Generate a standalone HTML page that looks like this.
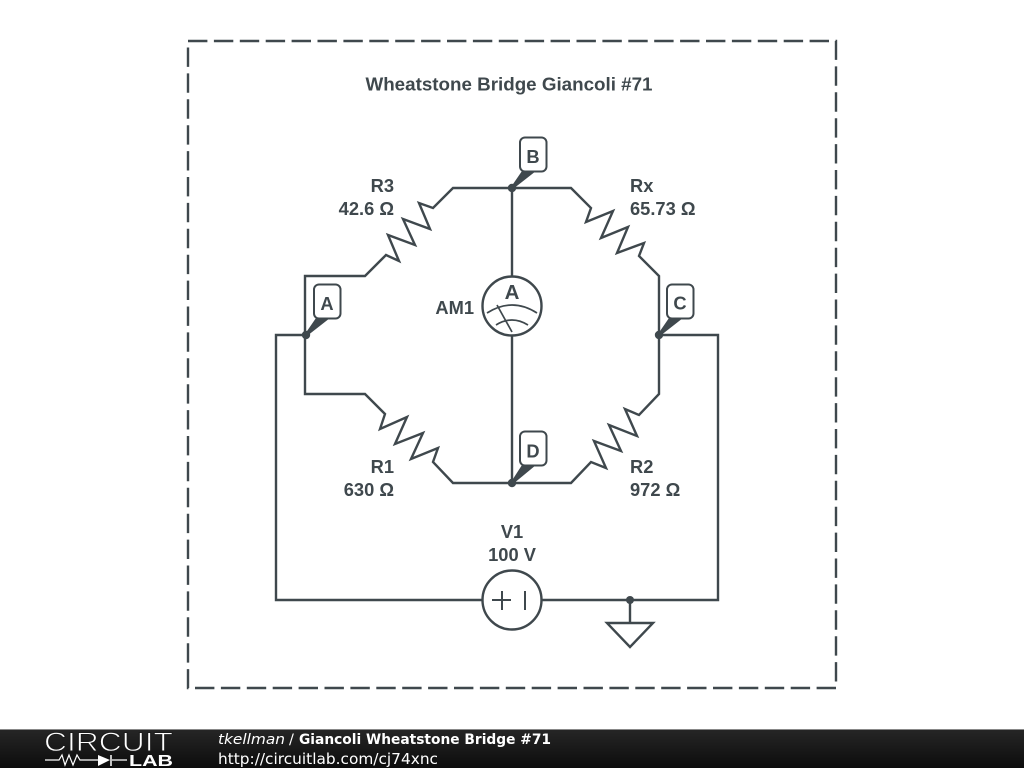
<!DOCTYPE html>
<html><head><meta charset="utf-8"><style>
html,body{margin:0;padding:0;background:#fff;width:1024px;height:768px;overflow:hidden}
svg{display:block}
.t{font:bold 18.3px "Liberation Sans",sans-serif;fill:#3f484d}
.w{fill:none;stroke:#3f484d;stroke-width:2.4;stroke-linejoin:miter}
.f{font-family:"DejaVu Sans",sans-serif;fill:#fff}
</style></head><body>
<svg width="1024" height="768" viewBox="0 0 1024 768" xmlns="http://www.w3.org/2000/svg">
<defs><linearGradient id="g" x1="0" y1="0" x2="0" y2="1"><stop offset="0" stop-color="#262626"/><stop offset="1" stop-color="#0c0c0c"/></linearGradient></defs>
<rect width="1024" height="768" fill="#fff"/>
<path d="M188 41H836V688H188V41" fill="none" stroke="#3f484d" stroke-width="2.4" stroke-dasharray="19.4 6.5"/>
<text class="t" x="509" y="90.500" text-anchor="middle" style="font-size:18.8px">Wheatstone Bridge Giancoli #71</text>

<path class="w" d="M305 335V276H365L386 255L399 261L388 235L415 245L403 219L430 229L419 203L433 208L453 188H571L591 208L586 222L613 211L601 238L628 227L617 253L644 243L639 256L659 276V394L639 415L625 409L637 436L609 425L621 451L594 441L606 468L591 462L571 483H453L433 462L438 448L411 459L423 433L395 444L407 417L380 429L385 414L365 394H305V335"/>
<path class="w" d="M512 188V277M512 336V483M305 335H276V600H482M542 600H718V335H659"/>

<circle class="w" cx="512" cy="306" r="29.5"/>
<text x="512" y="299" text-anchor="middle" style="font:bold 20.5px 'Liberation Sans',sans-serif;fill:#3f484d">A</text>
<path d="M487 313Q512 297 537 313M496 325Q512 315 528 325M497 305L512 332" fill="none" stroke="#3f484d" stroke-width="1.7"/>

<circle class="w" cx="512" cy="600" r="29.5"/>
<path d="M492 600H511M502 591V610M525 591V610" fill="none" stroke="#3f484d" stroke-width="2"/>

<path class="w" d="M630 600V623M607 623H653L630 647Z"/>
<circle cx="630" cy="600" r="4" fill="#3f484d"/>

<g fill="#3f484d">
<circle cx="512" cy="188" r="4.2"/><circle cx="306" cy="335" r="4.2"/><circle cx="659" cy="335" r="4.2"/><circle cx="512" cy="483" r="4.2"/>
<path d="M511 187L522 171H536L513 189Z"/>
<path d="M305 334L316 318H330L307 336Z"/>
<path d="M658 334L669 318H683L660 336Z"/>
<path d="M511 482L522 465H536L513 484Z"/>
</g>
<g fill="#fff" stroke="#3f484d" stroke-width="2">
<rect x="520" y="137.5" width="26.5" height="34" rx="5"/>
<rect x="314" y="284.5" width="26.5" height="34" rx="5"/>
<rect x="667" y="284.5" width="26.5" height="34" rx="5"/>
<rect x="520" y="431.5" width="26.5" height="34" rx="5"/>
</g>
<text class="t" x="533" y="163" text-anchor="middle">B</text>
<text class="t" x="327" y="310" text-anchor="middle">A</text>
<text class="t" x="680" y="309.5" text-anchor="middle">C</text>
<text class="t" x="533" y="457.500" text-anchor="middle">D</text>

<text class="t" x="394" y="192" text-anchor="end">R3</text>
<text class="t" x="394" y="215" text-anchor="end">42.6 Ω</text>
<text class="t" x="630" y="192">Rx</text>
<text class="t" x="630" y="215">65.73 Ω</text>
<text class="t" x="474" y="314" text-anchor="end">AM1</text>
<text class="t" x="394" y="473" text-anchor="end">R1</text>
<text class="t" x="394" y="496" text-anchor="end">630 Ω</text>
<text class="t" x="630" y="473">R2</text>
<text class="t" x="630" y="496">972 Ω</text>
<text class="t" x="512" y="538" text-anchor="middle">V1</text>
<text class="t" x="512" y="561" text-anchor="middle">100 V</text>

<rect x="0" y="729" width="1024" height="39" fill="url(#g)"/>
<rect x="0" y="729" width="1024" height="1" fill="#888"/>
<text x="44" y="751" textLength="129" lengthAdjust="spacingAndGlyphs" style="font:26.500px 'Liberation Sans',sans-serif;fill:#fff;stroke:#1c1c1c;stroke-width:.9">CIRCUIT</text>
<path d="M45 760H59L62 755L65 765L69 755L73 765L77 755L80 760H98M112 760H127" fill="none" stroke="#fff" stroke-width="1.2"/>
<path d="M98 755L110 760L98 766Z" fill="#fff"/><path d="M111 755V766" stroke="#fff" stroke-width="1.5"/>
<text x="129" y="766" textLength="44" lengthAdjust="spacingAndGlyphs" style="font:bold 15.5px 'Liberation Sans',sans-serif;fill:#fff">LAB</text>

<text class="f" x="218" y="744" textLength="67" lengthAdjust="spacingAndGlyphs" font-style="oblique" style="font-size:14.5px">tkellman</text>
<text class="f" x="289" y="744" style="font-size:14.5px">/</text>
<text class="f" x="299" y="744" textLength="252" lengthAdjust="spacingAndGlyphs" font-weight="bold" style="font-size:14.5px">Giancoli Wheatstone Bridge #71</text>
<text class="f" x="218" y="764" textLength="220" lengthAdjust="spacingAndGlyphs" style="font-size:15.3px">http://circuitlab.com/cj74xnc</text>
</svg>
</body></html>
